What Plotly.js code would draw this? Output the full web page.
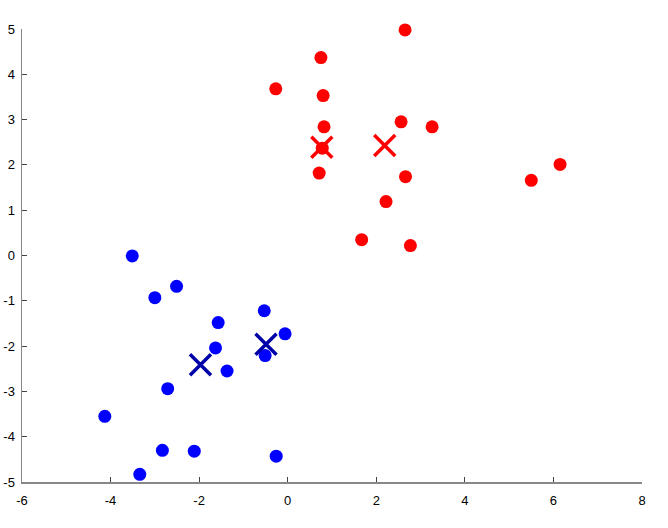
<!DOCTYPE html>
<html>
<head>
<meta charset="utf-8">
<script src="https://cdn.plot.ly/plotly-3.0.1.min.js"></script>
<style>html,body{margin:0;padding:0;background:#fff;}#chart{width:668px;height:528px;}</style>
</head>
<body>
<div id="chart"></div>
<script>
// Cluster 1 (red) points
var redX = [2.65, 0.75, -0.27, 0.80, 0.82, 0.78, 0.71, 2.56, 3.26, 2.66, 2.22, 1.67, 2.77, 5.50, 6.15];
var redY = [4.98, 4.37, 3.68, 3.53, 2.84, 2.37, 1.82, 2.95, 2.84, 1.74, 1.19, 0.35, 0.22, 1.66, 2.01];
// Cluster 2 (blue) points
var blueX = [-3.51, -3.00, -2.51, -0.53, -1.57, -0.06, -1.63, -0.51, -1.37, -2.71, -4.13, -2.83, -2.11, -0.26, -3.34];
var blueY = [-0.01, -0.93, -0.68, -1.22, -1.48, -1.73, -2.04, -2.21, -2.55, -2.94, -3.55, -4.30, -4.32, -4.43, -4.83];
// Centroids
var redCentX = [0.77, 2.19];
var redCentY = [2.39, 2.43];
var blueCentX = [-1.97, -0.49];
var blueCentY = [-2.41, -1.96];
// Tick labels
var xTicks = [-6, -4, -2, 0, 2, 4, 6, 8];
var xTickText = ["-6", "-4", "-2", "0", "2", "4", "6", "8"];
var yTicks = [-5, -4, -3, -2, -1, 0, 1, 2, 3, 4, 5];
var yTickText = ["-5", "-4", "-3", "-2", "-1", "0", "1", "2", "3", "4", "5"];

var traces = [
  {x: redX, y: redY, type: 'scatter', mode: 'markers', cliponaxis: false,
   marker: {color: '#ff0000', size: 13, line: {width: 0}}},
  {x: blueX, y: blueY, type: 'scatter', mode: 'markers', cliponaxis: false,
   marker: {color: '#0000ff', size: 13, line: {width: 0}}},
  {x: redCentX, y: redCentY, type: 'scatter', mode: 'markers', cliponaxis: false,
   marker: {symbol: 'x-thin', size: 21, color: '#ff0000', line: {width: 3.5, color: '#ff0000'}}},
  {x: blueCentX, y: blueCentY, type: 'scatter', mode: 'markers', cliponaxis: false,
   marker: {symbol: 'x-thin', size: 21, color: '#0000a8', line: {width: 3.5, color: '#0000a8'}}}
];

var axisFont = {family: 'Liberation Sans, Arial, sans-serif', size: 13, color: '#000'};
var layout = {
  width: 668, height: 528,
  margin: {l: 22, r: 26, t: 29, b: 46, pad: 0},
  showlegend: false,
  paper_bgcolor: '#fff', plot_bgcolor: '#fff',
  xaxis: {range: [-6, 8], tickvals: xTicks, ticktext: xTickText, showgrid: false, zeroline: false,
          showline: true, linecolor: '#888', linewidth: 1.5, ticks: 'inside', ticklen: 5,
          tickcolor: '#444', tickwidth: 1, tickfont: axisFont, ticklabelstandoff: 6, fixedrange: true},
  yaxis: {range: [-5, 5], tickvals: yTicks, ticktext: yTickText, showgrid: false, zeroline: false,
          showline: true, linecolor: '#888', linewidth: 1.5, ticks: 'inside', ticklen: 5,
          tickcolor: '#444', tickwidth: 1, tickfont: axisFont, ticklabelstandoff: 3, fixedrange: true}
};
Plotly.newPlot('chart', traces, layout, {displayModeBar: false, staticPlot: true});
</script>
</body>
</html>
